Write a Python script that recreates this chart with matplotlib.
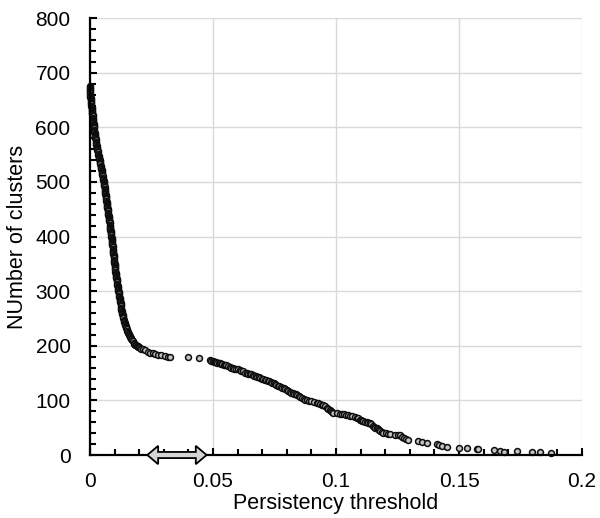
import numpy as np
import matplotlib
matplotlib.use("Agg")
import matplotlib.pyplot as plt
from matplotlib.patches import Polygon
from matplotlib.ticker import MultipleLocator

# persistency threshold vs number of clusters
# steep branch: points are packed so tightly they read as a solid black line
steep_x = [
    0.0000, 0.0000, 0.0000, 0.0000, 0.0000, 0.0001, 0.0001, 0.0001, 0.0002, 0.0002,
    0.0002, 0.0003, 0.0003, 0.0004, 0.0004, 0.0005, 0.0005, 0.0006, 0.0006, 0.0007,
    0.0007, 0.0008, 0.0008, 0.0009, 0.0009, 0.0010, 0.0010, 0.0011, 0.0011, 0.0012,
    0.0012, 0.0013, 0.0013, 0.0014, 0.0014, 0.0015, 0.0015, 0.0016, 0.0016, 0.0017,
    0.0017, 0.0018, 0.0018, 0.0019, 0.0020, 0.0021, 0.0021, 0.0022, 0.0022, 0.0023,
    0.0024, 0.0025, 0.0025, 0.0026, 0.0026, 0.0027, 0.0028, 0.0029, 0.0029, 0.0030,
    0.0031, 0.0032, 0.0033, 0.0034, 0.0035, 0.0036, 0.0037, 0.0038, 0.0039, 0.0040,
    0.0041, 0.0042, 0.0042, 0.0043, 0.0044, 0.0045, 0.0046, 0.0047, 0.0047, 0.0048,
    0.0049, 0.0050, 0.0050, 0.0051, 0.0052, 0.0053, 0.0054, 0.0055, 0.0055, 0.0056,
    0.0057, 0.0058, 0.0058, 0.0059, 0.0060, 0.0061, 0.0061, 0.0062, 0.0062, 0.0063,
    0.0064, 0.0065, 0.0065, 0.0066, 0.0066, 0.0067, 0.0068, 0.0069, 0.0069, 0.0070,
    0.0070, 0.0071, 0.0071, 0.0072, 0.0073, 0.0074, 0.0074, 0.0075, 0.0075, 0.0076,
    0.0076, 0.0077, 0.0077, 0.0078, 0.0079, 0.0080, 0.0080, 0.0081, 0.0081, 0.0082,
    0.0082, 0.0083, 0.0083, 0.0084, 0.0084, 0.0085, 0.0085, 0.0086, 0.0087, 0.0088,
    0.0088, 0.0089, 0.0089, 0.0090, 0.0090, 0.0091, 0.0091, 0.0092, 0.0092, 0.0093,
    0.0093, 0.0094, 0.0094, 0.0095, 0.0095, 0.0096, 0.0096, 0.0097, 0.0097, 0.0098,
    0.0098, 0.0099, 0.0099, 0.0100, 0.0100, 0.0101, 0.0101, 0.0102, 0.0102, 0.0103,
    0.0103, 0.0104, 0.0104, 0.0105, 0.0105, 0.0106, 0.0107, 0.0108, 0.0108, 0.0109,
    0.0109, 0.0110, 0.0111, 0.0112, 0.0112, 0.0113, 0.0114, 0.0115, 0.0115, 0.0116,
    0.0117, 0.0118, 0.0118, 0.0119, 0.0120, 0.0121, 0.0121, 0.0122, 0.0123, 0.0124,
    0.0124, 0.0125, 0.0126, 0.0127, 0.0127, 0.0128, 0.0129, 0.0130, 0.0131, 0.0132,
    0.0133, 0.0134, 0.0135, 0.0136, 0.0137, 0.0139, 0.0140, 0.0141, 0.0142, 0.0144,
    0.0145, 0.0147, 0.0148, 0.0150, 0.0151, 0.0153, 0.0155, 0.0157, 0.0159, 0.0161,
    0.0163, 0.0166, 0.0168, 0.0171, 0.0174, 0.0177, 0.0180, 0.0184, 0.0187, 0.0190,
    0.0194, 0.0197, 0.0200, 0.0204, 0.0207, 0.0216, 0.0224, 0.0236, 0.0245, 0.0257,
    0.0264, 0.0276, 0.0290, 0.0305, 0.0318, 0.0325, 0.0398, 0.0443]
steep_y = [
    676, 674, 672, 670, 668, 666, 664, 662, 660, 658,
    656, 654, 652, 650, 648, 646, 644, 642, 640, 638,
    636, 634, 632, 630, 628, 626, 624, 622, 620, 618,
    616, 614, 612, 610, 608, 606, 604, 602, 600, 598,
    596, 594, 592, 590, 588, 586, 584, 582, 580, 578,
    576, 574, 572, 570, 568, 566, 564, 562, 560, 558,
    556, 554, 552, 550, 548, 546, 544, 542, 540, 538,
    536, 534, 532, 530, 528, 526, 524, 522, 520, 518,
    516, 514, 512, 510, 508, 506, 504, 502, 500, 498,
    496, 494, 492, 490, 488, 486, 484, 482, 480, 478,
    476, 474, 472, 470, 468, 466, 464, 462, 460, 458,
    456, 454, 452, 450, 448, 446, 444, 442, 440, 438,
    436, 434, 432, 430, 428, 426, 424, 422, 420, 418,
    416, 414, 412, 410, 408, 406, 404, 402, 400, 398,
    396, 394, 392, 390, 388, 386, 384, 382, 380, 378,
    376, 374, 372, 370, 368, 366, 364, 362, 360, 358,
    356, 354, 352, 350, 348, 346, 344, 342, 340, 338,
    336, 334, 332, 330, 328, 326, 324, 322, 320, 318,
    316, 314, 312, 310, 308, 306, 304, 302, 300, 298,
    296, 294, 292, 290, 288, 286, 284, 282, 280, 278,
    276, 274, 272, 270, 268, 266, 264, 262, 260, 258,
    256, 254, 252, 250, 248, 246, 244, 242, 240, 238,
    236, 234, 232, 230, 228, 226, 224, 222, 220, 218,
    216, 214, 212, 210, 208, 206, 204, 202, 201, 200,
    199, 198, 197, 196, 195, 194, 192, 189, 187, 186,
    185, 184, 183, 182, 180, 180, 179, 177]

# slow branch after the plateau, thinning out towards zero
tail_x = [0.0488, 0.0493, 0.0498, 0.0503, 0.0508, 0.0513, 0.0518, 0.0523, 0.0528, 0.0533,
          0.0538, 0.0543, 0.0548, 0.0553, 0.0560, 0.0569, 0.0575, 0.0580, 0.0587, 0.0595,
          0.0602, 0.0608, 0.0615, 0.0622, 0.0630, 0.0637, 0.0644, 0.0650, 0.0656, 0.0662,
          0.0668, 0.0674, 0.0680, 0.0686, 0.0692, 0.0698, 0.0704, 0.0710, 0.0716, 0.0722,
          0.0728, 0.0734, 0.0740, 0.0746, 0.0752, 0.0758, 0.0764, 0.0770, 0.0776, 0.0782,
          0.0788, 0.0794, 0.0800, 0.0806, 0.0812, 0.0818, 0.0824, 0.0830, 0.0836, 0.0842,
          0.0848, 0.0855, 0.0862, 0.0870, 0.0876, 0.0881, 0.0890, 0.0900, 0.0910, 0.0921,
          0.0928, 0.0935, 0.0942, 0.0948, 0.0955, 0.0962, 0.0968, 0.0974, 0.0980, 0.0985,
          0.0989, 0.1005, 0.1015, 0.1023, 0.1032, 0.1040, 0.1048, 0.1055, 0.1065, 0.1077,
          0.1084, 0.1090, 0.1096, 0.1100, 0.1105, 0.1110, 0.1118, 0.1125, 0.1132, 0.1138,
          0.1144, 0.1150, 0.1155, 0.1160, 0.1165, 0.1170, 0.1175, 0.1180, 0.1186, 0.1192,
          0.1205, 0.1212, 0.1220, 0.1240, 0.1250, 0.1260, 0.1268, 0.1275, 0.1285, 0.1293,
          0.1333, 0.1348, 0.1368, 0.1409, 0.1420, 0.1430, 0.1450, 0.1500, 0.1531, 0.1572,
          0.1578, 0.1644, 0.1667, 0.1684, 0.1734, 0.1795, 0.1829, 0.1874]
tail_y = [174, 173, 172, 171, 171, 170, 169, 168, 168, 167,
          166, 165, 165, 164, 163, 161, 160, 159, 158, 158,
          157, 155, 154, 153, 151, 150, 149, 149, 148, 147,
          145, 144, 143, 142, 141, 140, 139, 138, 137, 136,
          135, 134, 132, 131, 130, 128, 127, 126, 125, 123,
          122, 120, 119, 117, 116, 114, 113, 112, 111, 109,
          108, 106, 105, 103, 101, 100, 99, 98, 97, 96,
          95, 94, 92, 91, 89, 87, 85, 83, 81, 79,
          77, 77, 76, 76, 75, 74, 73, 72, 71, 70,
          68, 67, 65, 64, 63, 62, 61, 60, 59, 58,
          56, 54, 52, 50, 49, 47, 45, 44, 42, 41,
          40, 39, 38, 37, 37, 36, 33, 31, 29, 27,
          26, 24, 22, 20, 18, 17, 15, 13, 13, 11,
          11, 9, 8, 6, 7, 5, 5, 3]

x_ticks = [0, 0.05, 0.1, 0.15, 0.2]
x_tick_labels = ["0", "0.05", "0.1", "0.15", "0.2"]
y_ticks = [0, 100, 200, 300, 400, 500, 600, 700, 800]

# highlighted threshold range (double arrow on the x axis)
arrow_x0, arrow_x1 = 0.0233, 0.0474

plt.rcParams["font.family"] = ["Liberation Sans", "DejaVu Sans"]

fig = plt.figure(figsize=(6.0, 5.18), dpi=100)
ax = fig.add_axes([0.15, 0.1216, 0.82, 0.8434])

x = np.array(steep_x + tail_x)
y = np.array(steep_y + tail_y)
ax.scatter(x, y, s=18, facecolor="#c4c4c4", edgecolor="#0d0d0d",
           linewidths=1.1, zorder=3, clip_on=False)

ax.set_xlim(0, 0.2)
ax.set_ylim(0, 800)
ax.set_xticks(x_ticks)
ax.set_xticklabels(x_tick_labels)
ax.set_yticks(y_ticks)
ax.xaxis.set_minor_locator(MultipleLocator(0.01))
ax.yaxis.set_minor_locator(MultipleLocator(20))

ax.grid(True, which="major", color="#d9d9d9", linewidth=1.0, zorder=0)
ax.set_axisbelow(True)
for side in ("top", "right"):
    ax.spines[side].set_visible(False)
for side in ("left", "bottom"):
    ax.spines[side].set_linewidth(1.6)
    ax.spines[side].set_zorder(4)

ax.tick_params(which="both", direction="in", width=1.5, labelsize=15)
ax.tick_params(which="major", length=5)
ax.tick_params(which="minor", length=4.5)
ax.tick_params(axis="y", which="major", pad=14)
ax.tick_params(axis="x", which="major", pad=12)

ax.set_xlabel("Persistency threshold", fontsize=15.5, labelpad=2)
ax.set_ylabel("NUmber of clusters", fontsize=15.5, labelpad=5)

# fat double-headed arrow: x in data units, y in axes fraction
head_len = 0.0044
head_half = 0.021
shaft_half = 0.007
verts = [
    (arrow_x0, 0),
    (arrow_x0 + head_len, head_half),
    (arrow_x0 + head_len, shaft_half),
    (arrow_x1 - head_len, shaft_half),
    (arrow_x1 - head_len, head_half),
    (arrow_x1, 0),
    (arrow_x1 - head_len, -head_half),
    (arrow_x1 - head_len, -shaft_half),
    (arrow_x0 + head_len, -shaft_half),
    (arrow_x0 + head_len, -head_half),
]
ax.add_patch(Polygon(verts, closed=True, transform=ax.get_xaxis_transform(),
                     facecolor="#d4d4d4", edgecolor="black", linewidth=1.3,
                     joinstyle="miter", zorder=6, clip_on=False))

fig.savefig("out.png", dpi=100)
